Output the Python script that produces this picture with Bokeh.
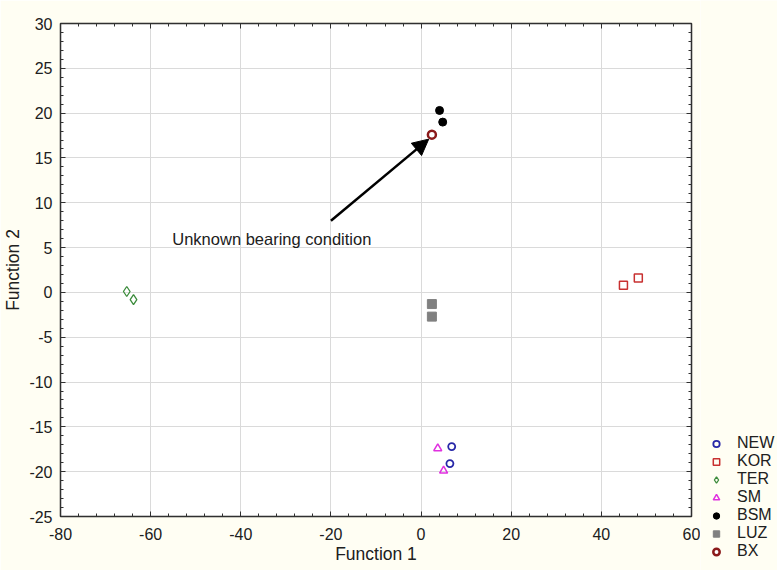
from bokeh.plotting import figure
from bokeh.layouts import row
from bokeh.models import (FixedTicker, LinearAxis, Range1d,
                          Legend, LegendItem, Arrow, NormalHead, Label)
from bokeh.embed import file_html
from bokeh.resources import INLINE

# ---- data (Function 1, Function 2) ----
new_x = [6.8, 6.4]
new_y = [-17.2, -19.1]
kor_x = [44.9, 48.2]
kor_y = [0.8, 1.6]
ter_x = [-65.3, -63.8]
ter_y = [0.1, -0.8]
sm_x = [3.7, 5.0]
sm_y = [-17.4, -19.9]
bsm_x = [4.1, 4.8]
bsm_y = [20.3, 19.0]
luz_x = [2.4, 2.4]
luz_y = [-1.3, -2.7]
bx_x = [2.4]
bx_y = [17.6]

groups = ["NEW", "KOR", "TER", "SM", "BSM", "LUZ", "BX"]

x_ticks = [-80, -60, -40, -20, 0, 20, 40, 60]
y_ticks = [-25, -20, -15, -10, -5, 0, 5, 10, 15, 20, 25, 30]
x_minor = [v for v in range(-80, 61, 4)]
y_minor = [v for v in range(-25, 31, 1)]
x_labels = {t: str(t) for t in x_ticks}
y_labels = {t: str(t) for t in y_ticks}

annot_text = "Unknown bearing condition"
arrow_from = (-20.0, 8.0)
arrow_to = (1.7, 17.1)

FONT = "Liberation Sans"
BG = "#FFFEF3"

styles = {
    "NEW": dict(marker="circle", size=7, fill_color=None, line_color="#2828A8", line_width=1.8),
    "KOR": dict(marker="square", size=8, fill_color=None, line_color="#C83030", line_width=1.5),
    "TER": dict(marker="diamond", size=10, fill_color=None, line_color="#3C8C3C", line_width=1.3),
    "SM": dict(marker="triangle", size=8, fill_color=None, line_color="#E030E0", line_width=1.5),
    "BSM": dict(marker="circle", size=8, fill_color="black", line_color="black"),
    "LUZ": dict(marker="square", size=9, fill_color="#808080", line_color="#808080"),
    "BX": dict(marker="circle", size=8, fill_color="white", line_color="#8B1A1A", line_width=2.5),
}
data = {
    "NEW": (new_x, new_y), "KOR": (kor_x, kor_y), "TER": (ter_x, ter_y),
    "SM": (sm_x, sm_y), "BSM": (bsm_x, bsm_y), "LUZ": (luz_x, luz_y),
    "BX": (bx_x, bx_y),
}

p = figure(width=700, height=570, output_backend="svg", toolbar_location=None,
           x_range=Range1d(-80, 60), y_range=Range1d(-25, 30),
           min_border_left=60, min_border_right=9, min_border_top=23,
           min_border_bottom=54, border_fill_color=BG,
           background_fill_color="white", outline_line_color="#202020",
           outline_line_width=1.5)

p.xaxis.ticker = FixedTicker(ticks=x_ticks, minor_ticks=x_minor)
p.yaxis.ticker = FixedTicker(ticks=y_ticks, minor_ticks=y_minor)
p.xaxis.major_label_overrides = x_labels
p.yaxis.major_label_overrides = y_labels
p.xgrid.ticker = FixedTicker(ticks=x_ticks)
p.ygrid.ticker = FixedTicker(ticks=y_ticks)
p.grid.grid_line_color = "#DADADA"
p.grid.grid_line_width = 1

for ax in (p.xaxis[0], p.yaxis[0]):
    ax.major_tick_in = 5
    ax.major_tick_out = 0
    ax.minor_tick_in = 3
    ax.minor_tick_out = 0
    ax.axis_line_color = "#303030"
    ax.major_tick_line_color = "#303030"
    ax.minor_tick_line_color = "#303030"
    ax.major_label_text_font = FONT
    ax.major_label_text_font_size = "16px"
    ax.major_label_text_color = "#202020"
    ax.axis_label_text_font = FONT
    ax.axis_label_text_font_size = "17.5px"
    ax.axis_label_text_font_style = "normal"
    ax.axis_label_text_color = "#202020"

p.xaxis.axis_label = "Function 1"
p.yaxis.axis_label = "Function 2"
p.xaxis.major_label_standoff = 11
p.yaxis.major_label_standoff = 8
p.xaxis.axis_label_standoff = 1
p.yaxis.axis_label_standoff = 3

# mirrored axes (ticks only, no labels)
top = LinearAxis(ticker=FixedTicker(ticks=x_ticks, minor_ticks=x_minor),
                 major_label_overrides={t: "" for t in x_ticks})
right = LinearAxis(ticker=FixedTicker(ticks=y_ticks, minor_ticks=y_minor),
                   major_label_overrides={t: "" for t in y_ticks})
for ax in (top, right):
    ax.major_tick_in = 5
    ax.major_tick_out = 0
    ax.minor_tick_in = 3
    ax.minor_tick_out = 0
    ax.major_label_standoff = 0
    ax.axis_line_color = "#303030"
    ax.major_tick_line_color = "#303030"
    ax.minor_tick_line_color = "#303030"
p.add_layout(top, "above")
p.add_layout(right, "right")

for g in groups:
    xs, ys = data[g]
    p.scatter(xs, ys, **styles[g])

p.add_layout(Arrow(end=NormalHead(size=16, fill_color="black", line_color="black"),
                   x_start=arrow_from[0], y_start=arrow_from[1],
                   x_end=arrow_to[0], y_end=arrow_to[1],
                   line_width=2.5, line_color="black"))
p.add_layout(Label(x=-55.2, y=6.0, text=annot_text, text_baseline="middle",
                   text_font=FONT, text_font_size="16.5px", text_color="#202020"))

# ---- legend panel (key glyphs only; its renderers are hidden) ----
lg = figure(width=77, height=570, output_backend="svg", toolbar_location=None,
            x_range=Range1d(0, 1), y_range=Range1d(0, 1),
            min_border=0, border_fill_color=BG, background_fill_color=BG,
            outline_line_color=None)
lg.axis.visible = False
lg.grid.visible = False
legend_y = -44
if "frame_align" in lg.properties():
    lg.frame_align = False
    legend_y = 10
items = []
for g in groups:
    xs, ys = data[g]
    r = lg.scatter(xs, ys, visible=False, **styles[g])
    items.append(LegendItem(label=g, renderers=[r]))
legend = Legend(items=items, location=(8, legend_y), orientation="vertical")
legend.label_text_font = FONT
legend.label_text_font_size = "16px"
legend.label_text_color = "#202020"
legend.glyph_width = 16
legend.glyph_height = 17
legend.label_height = 17
legend.spacing = 0
legend.padding = 0
legend.margin = 0
legend.label_standoff = 13
legend.border_line_alpha = 0
legend.background_fill_alpha = 0
legend.inactive_fill_alpha = 0
lg.add_layout(legend, "center")

layout = row(p, lg)
open("out.html", "w").write(file_html(layout, INLINE))
